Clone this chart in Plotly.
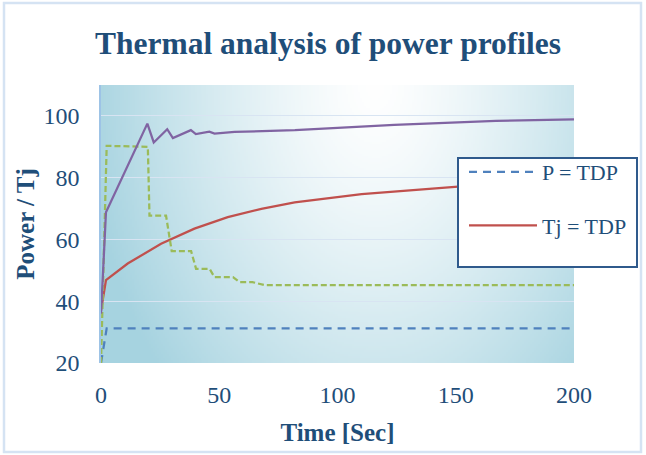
import base64
import struct
import zlib

import numpy as np
import plotly.graph_objects as go

# ---------------- data ----------------
time_p_tdp = [0, 2.4, 200]
p_tdp = [20, 31.2, 31.2]

time_tj_tdp = [0, 2.1, 11.3, 25.4, 39.5, 53.6, 67.8, 81.9, 110.2, 138.4, 151, 175, 200]
tj_tdp = [37, 46.8, 52.2, 58.6, 63.5, 67.2, 69.9, 72.0, 74.7, 76.4, 77.1, 78.0, 78.7]

time_p_prof = [0, 2.4, 19.8, 20.5, 27.5, 29.9, 38.1, 40.2, 45.9, 48, 55.8, 58.6, 64, 69.2, 200]
p_prof = [20, 90.3, 90.0, 67.7, 67.7, 56.2, 56.2, 50.5, 50.5, 47.8, 47.8, 46.2, 46.2, 45.2, 45.2]

time_tj_prof = [0, 2.1, 19.6, 22.3, 28, 30.4, 38, 40.1, 45.8, 48, 56.5, 82, 124, 167, 200]
tj_prof = [36, 68.8, 97.5, 91.4, 95.7, 92.8, 95.4, 94.1, 94.9, 94.3, 94.8, 95.4, 97.1, 98.4, 98.9]

y_ticks = [20, 40, 60, 80, 100]
x_ticks = [0, 50, 100, 150, 200]

# ---------------- figure geometry ----------------
W, H = 646, 455
ML, MR, MT, MB = 101, 72, 85, 92
PW, PH = W - ML - MR, H - MT - MB


def px_x(px):
    return (px - ML) / PW


def px_y(py):
    return (H - MB - py) / PH


# ---------------- gradient background (PNG data URI) ----------------
def gradient_png(w, h):
    xs = np.linspace(0, 1, w)
    ys = np.linspace(0, 1, h)
    X, Y = np.meshgrid(xs, ys)
    d = np.sqrt(((X - 0.58) / 0.62) ** 2 + ((Y - 0.0) / 1.55) ** 2)
    t = np.clip(d, 0, 1) ** 1.35
    white = np.array([255, 255, 255], dtype=float)
    teal = np.array([166, 211, 224], dtype=float)
    img = white[None, None, :] * (1 - t[..., None]) + teal[None, None, :] * t[..., None]
    img = img.astype(np.uint8)
    raw = b"".join(b"\x00" + img[r].tobytes() for r in range(h))

    def chunk(tag, data):
        return (struct.pack(">I", len(data)) + tag + data
                + struct.pack(">I", zlib.crc32(tag + data) & 0xFFFFFFFF))

    png = (b"\x89PNG\r\n\x1a\n"
           + chunk(b"IHDR", struct.pack(">IIBBBBB", w, h, 8, 2, 0, 0, 0))
           + chunk(b"IDAT", zlib.compress(raw, 9))
           + chunk(b"IEND", b""))
    return "data:image/png;base64," + base64.b64encode(png).decode()


FONT = "Liberation Serif"
TXT = "#1F4E79"

fig = go.Figure()

fig.add_trace(go.Scatter(
    x=time_p_tdp, y=p_tdp, mode="lines", name="P = TDP",
    line=dict(color="#4F81BD", width=2.25, dash="8px,6px"),
    legendgroup="a",
))
fig.add_trace(go.Scatter(
    x=time_tj_tdp, y=tj_tdp, mode="lines", name="Tj = TDP",
    line=dict(color="#C0504D", width=2.25),
    legendgroup="b",
))
fig.add_trace(go.Scatter(
    x=time_p_prof, y=p_prof, mode="lines", name="P profile",
    line=dict(color="#9BBB59", width=2.25, dash="6px,3px"),
    showlegend=False,
))
fig.add_trace(go.Scatter(
    x=time_tj_prof, y=tj_prof, mode="lines", name="Tj profile",
    line=dict(color="#8064A2", width=2.25),
    showlegend=False,
))

fig.update_layout(
    width=W, height=H,
    margin=dict(l=ML, r=MR, t=MT, b=MB, pad=0),
    paper_bgcolor="white",
    plot_bgcolor="rgba(0,0,0,0)",
    font=dict(family=FONT, color=TXT, size=24),
    title=dict(
        text="Thermal analysis of power profiles",
        font=dict(family=FONT, size=31.5, color=TXT, weight="bold"),
        x=328 / W, xanchor="center", xref="container",
        y=1 - 43 / H, yanchor="middle",
    ),
    showlegend=True,
    legend=dict(
        x=px_x(464), y=px_y(151), xanchor="left", yanchor="top",
        xref="paper", yref="paper",
        bgcolor="rgba(0,0,0,0)", borderwidth=0,
        font=dict(family=FONT, size=22, color=TXT),
        itemwidth=68,
        tracegroupgap=22,
        traceorder="grouped",
    ),
    images=[dict(
        source=gradient_png(240, 140),
        xref="paper", yref="paper", x=0, y=1, sizex=1, sizey=1,
        sizing="stretch", layer="below", xanchor="left", yanchor="top",
    )],
    shapes=[
        # legend box
        dict(type="rect", xref="paper", yref="paper",
             x0=px_x(458), x1=px_x(637), y0=px_y(267), y1=px_y(158),
             fillcolor="white", line=dict(color="#2F5A8C", width=2), layer="above"),
        # outer chart frame
        dict(type="rect", xref="paper", yref="paper",
             x0=px_x(4), x1=px_x(641), y0=px_y(452), y1=px_y(3),
             fillcolor="rgba(0,0,0,0)", line=dict(color="#D5E3F3", width=2.5), layer="above"),
    ],
)

fig.update_xaxes(
    range=[0, 200], tickvals=x_ticks, ticktext=[str(v) for v in x_ticks],
    showgrid=False, zeroline=False, showline=False,
    ticks="", ticklabelstandoff=15,
    tickfont=dict(family=FONT, size=24, color=TXT),
    title=dict(text="Time [Sec]", font=dict(family=FONT, size=25, color=TXT, weight="bold"),
               standoff=16),
)
fig.update_yaxes(
    range=[20, 110], tickvals=y_ticks, ticktext=[str(v) for v in y_ticks],
    showgrid=True, gridcolor="#D8E4F2", gridwidth=1,
    zeroline=False, showline=True, linecolor="#9DC3E6", linewidth=1.5,
    ticks="", ticklabelstandoff=15,
    tickfont=dict(family=FONT, size=24, color=TXT),
    title=dict(text="Power / Tj", font=dict(family=FONT, size=25, color=TXT, weight="bold"),
               standoff=2),
)

fig.write_html(
    "out.html",
    config={"displayModeBar": False},
    post_script="document.body.style.margin='0';document.body.style.padding='0';",
)
